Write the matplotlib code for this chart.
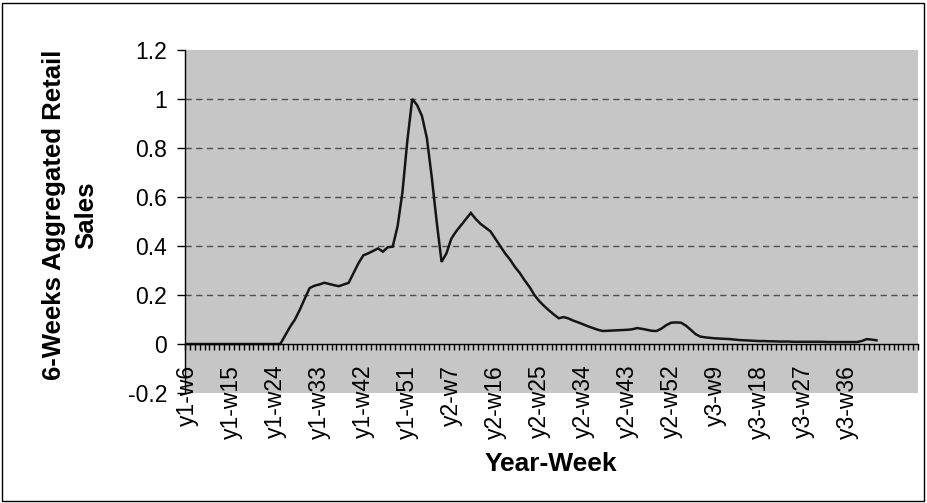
import matplotlib
matplotlib.use("Agg")
import numpy as np
import matplotlib.pyplot as plt
from matplotlib.patches import Rectangle
from matplotlib.ticker import FixedLocator, FuncFormatter

plt.rcParams['font.family'] = ['Liberation Sans', 'DejaVu Sans']

# ---- data ----
# category names (year, first week, last week)
year_ranges = [(1, 6, 53), (2, 1, 52), (3, 1, 42)]
weeks = [f"y{y}-w{w}" for y, a, b in year_ranges for w in range(a, b + 1)]

values = [
    0, 0, 0, 0, 0, 0, 0, 0, 0, 0,
    0, 0, 0, 0, 0, 0, 0, 0, 0, 0.0,
    0.035, 0.07, 0.10, 0.14, 0.185, 0.228, 0.238, 0.243, 0.25, 0.245,
    0.24, 0.236, 0.243, 0.25, 0.29, 0.33, 0.362, 0.37, 0.38, 0.39,
    0.377, 0.395, 0.397, 0.48, 0.62, 0.83, 1.0, 0.975, 0.93, 0.84,
    0.68, 0.50, 0.335, 0.37, 0.43, 0.46, 0.485, 0.51, 0.535, 0.51,
    0.49, 0.475, 0.46, 0.43, 0.40, 0.37, 0.345, 0.315, 0.29, 0.26,
    0.233, 0.20, 0.175, 0.155, 0.137, 0.12, 0.105, 0.11, 0.104, 0.095,
    0.088, 0.08, 0.072, 0.065, 0.058, 0.053, 0.054, 0.055, 0.056, 0.057,
    0.058, 0.06, 0.065, 0.062, 0.058, 0.054, 0.053, 0.063, 0.077, 0.087,
    0.088, 0.087, 0.075, 0.058, 0.04, 0.03, 0.027, 0.025, 0.023, 0.022,
    0.021, 0.02, 0.018, 0.016, 0.015, 0.014, 0.013, 0.012, 0.012, 0.011,
    0.011, 0.01, 0.01, 0.01, 0.009, 0.009, 0.009, 0.009, 0.009, 0.009,
    0.009, 0.008, 0.008, 0.008, 0.008, 0.008, 0.008, 0.008, 0.012, 0.02,
    0.018, 0.015,
]

y_ticks = [-0.2, 0, 0.2, 0.4, 0.6, 0.8, 1.0, 1.2]
grid_levels = [0.2, 0.4, 0.6, 0.8, 1.0]
n_slots = 150          # category slots on the axis (trailing ones are empty)
label_step = 9

# ---- figure ----
W, H = 927, 503
fig = plt.figure(figsize=(W / 100, H / 100), dpi=100)
L, R, T, B = 185, 918, 50, 393
ax = fig.add_axes([L / W, 1 - B / H, (R - L) / W, (B - T) / H])
ax.set_facecolor('#c6c6c6')

x = np.arange(len(values))
ax.plot(x, values, color='#151515', lw=1.8, solid_joinstyle='miter', zorder=4)

for g in grid_levels:
    ax.axhline(g, color='#505050', lw=1.0, dashes=(4.5, 3.2), zorder=2)

ax.set_xlim(-0.5, n_slots - 0.5)
ax.set_ylim(-0.2, 1.2)

for s in ['top', 'right']:
    ax.spines[s].set_visible(False)
ax.spines['bottom'].set_position(('data', 0))
ax.spines['bottom'].set_zorder(5)
ax.spines['left'].set_linewidth(1.0)
ax.spines['bottom'].set_linewidth(1.0)

ax.set_yticks(y_ticks)
ax.yaxis.set_major_formatter(FuncFormatter(lambda v, p: f"{round(v, 1):g}"))
ax.tick_params(axis='y', direction='out', length=6, width=1, pad=7, labelsize=16.5)

tick_pos = list(range(0, len(weeks), label_step))
ax.set_xticks(tick_pos)
ax.set_xticklabels([weeks[i] for i in tick_pos], rotation=90, va='top', ha='center')
ax.xaxis.set_minor_locator(FixedLocator(np.arange(-0.5, n_slots, 1)))
ax.tick_params(axis='x', which='major', length=0, pad=15, labelsize=16.5)
ax.tick_params(axis='x', which='minor', direction='out', length=4.5, width=1)

fig.text(70 / W, 1 - 215 / H, "6-Weeks Aggregated Retail\nSales", rotation=90,
         ha='center', va='center', multialignment='center',
         fontsize=18.5, fontweight='bold', linespacing=1.4)
fig.text(551 / W, 1 - 464 / H, "Year-Week", ha='center', va='center',
         fontsize=19, fontweight='bold')

fig.patches.append(Rectangle((2 / W, 2 / H), (W - 5) / W, (H - 5) / H,
                             transform=fig.transFigure, fill=False,
                             edgecolor='black', lw=1.0))

fig.savefig('out.png', dpi=100)
